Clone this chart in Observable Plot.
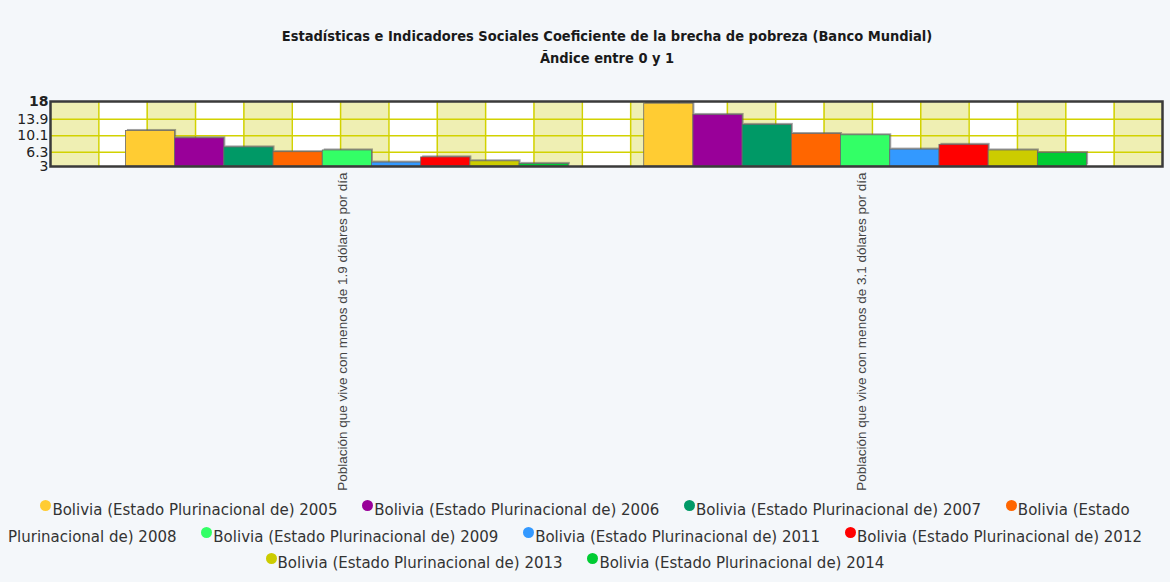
<!DOCTYPE html>
<html>
<head>
<meta charset="utf-8">
<script src="https://cdn.jsdelivr.net/npm/d3@7"></script>
<script src="https://cdn.jsdelivr.net/npm/@observablehq/plot@0.6"></script>
<style>
  html, body { margin: 0; padding: 0; background: #f4f7fa; }
  body { width: 1170px; height: 582px; overflow: hidden; }
  #title { padding-top: 25px; padding-left: 44px; text-align: center; font-family: "DejaVu Sans Condensed", "DejaVu Sans", sans-serif; font-weight: bold; font-size: 14.5px; line-height: 22px; color: #1a1a1a; }
  #chart svg { display: block; }
  #legend { width: 1160px; margin: 0 auto; padding-top: 1px; text-align: center; font-family: "DejaVu Sans", sans-serif; font-size: 15px; line-height: 26.5px; color: #333; }
  #legend .item { margin-right: 20px; }
  #legend .nw { white-space: nowrap; }
  #legend .dot { display: inline-block; width: 11px; height: 11px; border-radius: 50%; margin-right: 1px; position: relative; top: -4px; }
</style>
</head>
<body>
<div id="title"></div>
<div id="chart"></div>
<div id="legend"></div>
<script>
const titleLines = ["Estadísticas e Indicadores Sociales Coeficiente de la brecha de pobreza (Banco Mundial)", "Ãndice entre 0 y 1"];
const categories = ["Población que vive con menos de 1.9 dólares por día", "Población que vive con menos de 3.1 dólares por día"];
const years = ["2005", "2006", "2007", "2008", "2009", "2011", "2012", "2013", "2014"];
const seriesNames = years.map(y => "Bolivia (Estado Plurinacional de) " + y);
const values19 = [11.2, 9.5, 7.4, 6.3, 6.7, 3.9, 5.1, 4.2, 3.6];
const values31 = [17.5, 14.9, 12.6, 10.5, 10.2, 6.9, 8.0, 6.7, 6.1];
const colors = ["#FFCC33", "#990099", "#009966", "#FF6600", "#33FF66", "#3399FF", "#FF0000", "#CCCC00", "#00CC33"];
const yTicks = [3, 6.3, 10.1, 13.9, 18];
const yDomain = [3, 18];
const bandCount = 23;

document.getElementById("title").innerHTML = titleLines.map(t => `<div>${t}</div>`).join("");

// layout helpers in data units (x domain = background columns)
const groupScale = d3.scaleBand().domain(categories).range([0, bandCount]).paddingInner(0.1455).paddingOuter(0.1455);
const yearScale = d3.scaleBand().domain(years).range([0, groupScale.bandwidth()]);

const rows = [];
[values19, values31].forEach((vals, ci) => {
  vals.forEach((v, yi) => {
    const x0 = groupScale(categories[ci]) + yearScale(years[yi]);
    rows.push({cat: categories[ci], year: years[yi], value: v, x1: x0, x2: x0 + yearScale.bandwidth(), color: colors[yi]});
  });
});

const bands = d3.range(bandCount);
const gridYellow = "#d2d200";

const plot = Plot.plot({
  width: 1170,
  height: 427,
  marginTop: 32,
  marginBottom: 330,
  marginLeft: 50,
  marginRight: 8,
  x: {type: "linear", domain: [0, bandCount], axis: null},
  y: {domain: yDomain, axis: null},
  style: {background: "transparent", overflow: "visible"},
  marks: [
    Plot.rect(bands, {x1: d => d, x2: d => d + 1, y1: yDomain[0], y2: yDomain[1], fill: d => d % 2 === 0 ? "#efefb3" : "#ffffff"}),
    Plot.ruleX(d3.range(1, bandCount), {stroke: gridYellow, strokeWidth: 1.5}),
    Plot.ruleY(yTicks.slice(1, -1), {stroke: gridYellow, strokeWidth: 1.5}),
    Plot.rect(rows, {x1: "x1", x2: "x2", y1: yDomain[0], y2: "value", fill: "#555", fillOpacity: 0.55, dx: 1.5, dy: -1.5}),
    Plot.rect(rows, {x1: "x1", x2: "x2", y1: yDomain[0], y2: "value", fill: "color", stroke: "#6a6a6a", strokeWidth: 0.8}),
    Plot.frame({stroke: "#3a3a3a", strokeWidth: 2.5}),
    Plot.text(yTicks.filter(d => d !== 18), {y: d => d, text: d => String(d), frameAnchor: "left", textAnchor: "end", dx: -2, fontSize: 14, fontFamily: "DejaVu Sans", fill: "#222"}),
    Plot.text(yTicks.filter(d => d === 18), {y: d => d, text: d => String(d), frameAnchor: "left", textAnchor: "end", dx: -2, fontSize: 14, fontWeight: "bold", fontFamily: "DejaVu Sans", fill: "#222"}),
    Plot.text(categories, {x: d => groupScale(d) + groupScale.bandwidth() / 2, frameAnchor: "bottom", rotate: -90, textAnchor: "end", dy: 6, fontSize: 13.5, fontFamily: "Liberation Sans", fill: "#444"})
  ]
});
document.getElementById("chart").appendChild(plot);

document.getElementById("legend").innerHTML = seriesNames.map((name, i) => {
  const first = name.split(" ")[0];
  const rest = name.slice(first.length);
  return `<span class="item"><span class="nw"><span class="dot" style="background:${colors[i]}"></span>${first}</span>${rest}</span> `;
}).join("");
</script>
</body>
</html>
